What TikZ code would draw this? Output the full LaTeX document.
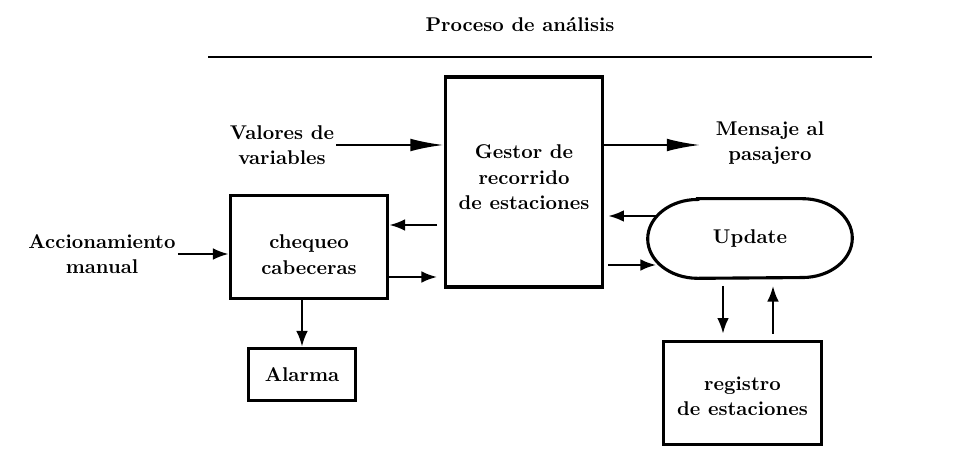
\documentclass[tikz,border=0pt]{standalone}
\usepackage{tikz}
\usetikzlibrary{arrows.meta}

\begin{document}
\begin{tikzpicture}[x=0.018cm,y=-0.018cm,
      font=\bfseries\fontsize{10.2}{13}\selectfont,
      box/.style={rectangle, draw=black, line width=1.6pt, align=center},
      stadium/.style={rectangle, minimum width=3.67cm, minimum height=1.42cm},
      lbl/.style={align=center, inner sep=1pt},
      arr/.style={line width=1.1pt,-{Latex[length=8pt,width=6pt]}},
      arrlong/.style={line width=1.1pt,-{Latex[length=17pt,width=6.5pt]}}
      ]
      \useasboundingbox (0,0) rectangle (963,450);
      % title and rule
      \node (title) at (520,25) {Proceso de an\'alisis};
      \draw[line width=0.9pt] (208,57) -- (872,57);
      % blocks
      \node (gestor) [box, minimum width=2.84cm, minimum height=3.78cm] at (524,182)
      {Gestor de\\ recorrido\\ de estaciones\\[-8pt]};
      \node (chk) [box, minimum width=2.84cm, minimum height=1.87cm] at (309,247)
      {\\[2pt] chequeo\\ cabeceras};
      \node (alarma) [box, minimum width=1.94cm, minimum height=0.95cm] at (302,374.5) {Alarma};
      \node (upd) [stadium] at (750,238.5) {Update};
      \draw[line width=1.6pt] ([xshift=0.9cm]upd.north west) -- ([xshift=-0.9cm]upd.north east)
        arc[start angle=90, end angle=-90, x radius=0.9cm, y radius=0.71cm]
        -- ([xshift=0.9cm]upd.south west)
        arc[start angle=270, end angle=90, x radius=0.9cm, y radius=0.71cm] -- cycle;
      \node (reg) [box, minimum width=2.86cm, minimum height=1.87cm] at (742.5,393)
      {\\[-2.5pt] registro\\ de estaciones};
      % free texts
      \node (valores) [lbl] at (282,145) {Valores de\\ variables};
      \node (mensaje) [lbl] at (770,143) {Mensaje al\\ pasajero};
      \node (accion) [lbl] at (102,254) {Accionamiento\\ manual};
      % ends of the connectors
      \coordinate (m1) at (700,145);
      \coordinate (a1) at (437,225);
      \coordinate (a2) at (437,277);
      \coordinate (a3) at (656,216);
      \coordinate (a4) at (656,265);
      \coordinate (b1) at (723,286);
      \coordinate (b2) at (773,286);
      % connectors
      \draw[arrlong] (valores.east) -- (valores.east -| gestor.west);
      \draw[arrlong] (gestor.east |- m1) -- (m1);
      \draw[arr] (accion.east) -- (accion.east -| chk.west);
      \draw[arr] (alarma.north |- chk.south) -- (alarma.north);
      \draw[arr] (a1) -- (a1 -| chk.east);
      \draw[arr] (chk.east |- a2) -- (a2);
      \draw[arr,shorten >=2pt] (a3) -- (a3 -| gestor.east);
      \draw[arr,shorten <=2pt] (gestor.east |- a4) -- (a4);
      \draw[arr,shorten >=3pt] (b1) -- (b1 |- reg.north);
      \draw[arr,shorten <=3pt] (b2 |- reg.north) -- (b2);
    \end{tikzpicture}
\end{document}
